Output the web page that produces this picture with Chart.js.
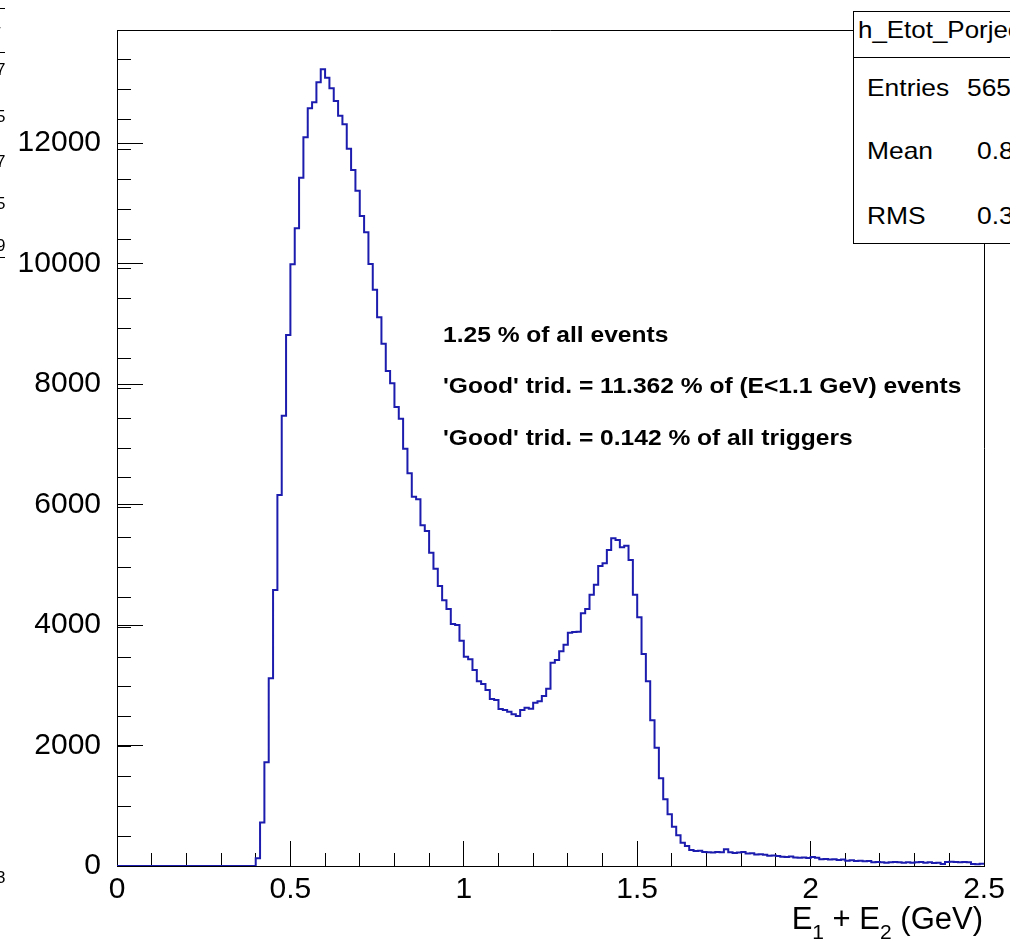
<!DOCTYPE html>
<html>
<head>
<meta charset="utf-8">
<script src="https://cdn.jsdelivr.net/npm/chart.js@4.4.0/dist/chart.umd.min.js"></script>
<style>
html,body{margin:0;padding:0;background:#fff;overflow:hidden;}
#wrap{position:relative;width:1019px;height:943px;overflow:hidden;font-family:"Liberation Sans",Arial,Helvetica,sans-serif;color:#000;background:#fff;}
#c{position:absolute;left:0;top:0;}
.ann{position:absolute;left:443px;font-weight:bold;font-size:22px;line-height:22px;white-space:nowrap;transform:scaleX(1.117);transform-origin:0 0;}
#statsClip{position:absolute;left:853px;top:0;width:157px;height:260px;overflow:hidden;}
#stats{position:absolute;left:0;top:11px;width:220px;height:233px;box-sizing:border-box;border:1px solid #000;background:#fff;}
#stats .div{position:absolute;left:0;right:0;top:45px;height:1px;background:#000;}
#stats .t{position:absolute;font-size:24px;line-height:24px;white-space:nowrap;}
#stats .s{transform:scaleX(1.1);transform-origin:0 0;}
#stats .ttl{transform:scaleX(1.08);transform-origin:0 0;}
#xtitle{position:absolute;right:36px;top:903px;font-size:31px;line-height:31px;white-space:nowrap;}
#xtitle span{font-size:21px;position:relative;top:10px;}
.frag{position:absolute;font-size:17px;line-height:17px;white-space:nowrap;}
.dash{position:absolute;left:0;width:5px;height:1px;background:#000;}
</style>
</head>
<body>
<div id="wrap">
<canvas id="c" width="1019" height="943"></canvas>

<div class="dash" style="top:8px"></div>
<div class="frag" style="left:-5px;top:22px">r</div>
<div class="dash" style="top:52px"></div>
<div class="frag" style="left:-4px;top:61px">7</div>
<div class="frag" style="left:-4px;top:108px">5</div>
<div class="frag" style="left:-4px;top:153px">7</div>
<div class="frag" style="left:-4px;top:195px">5</div>
<div class="frag" style="left:-4px;top:237px">9</div>
<div class="dash" style="top:257px"></div>
<div class="frag" style="left:-4px;top:869px">3</div>

<div class="ann" style="top:324px">1.25 % of all events</div>
<div class="ann" style="top:375px">'Good' trid. = 11.362 % of (E&lt;1.1 GeV) events</div>
<div class="ann" style="top:427px">'Good' trid. = 0.142 % of all triggers</div>

<div id="statsClip">
  <div id="stats">
    <div class="t ttl" style="left:4px;top:6px">h_Etot_Porjection</div>
    <div class="div"></div>
    <div class="t s" style="left:13px;top:64px">Entries</div>
    <div class="t s" style="left:113px;top:64px">565</div>
    <div class="t s" style="left:13px;top:127px">Mean</div>
    <div class="t s" style="left:123px;top:127px">0.8</div>
    <div class="t s" style="left:13px;top:192px">RMS</div>
    <div class="t s" style="left:123px;top:192px">0.3</div>
  </div>
</div>

<div id="xtitle">E<span>1</span> + E<span>2</span> (GeV)</div>
</div>

<script>
// ---- data ----
const binLow = 0;
const binWidth = 0.0125;
const counts = [
  0,0,0,0,0,0,0,0,0,0, 0,0,0,0,0,0,0,0,0,0, 0,0,0,0,0,0,0,0,0,0, 0,0,
  130,720,1720,3115,4581,6158,7474,8813,
  9986,10584,11425,12094,12576,12675,13007,13223,13084,12908,
  12697,12453,12310,11905,11552,11208,10788,10518,9992,9565,
  9107,8669,8216,8011,7618,7424,6926,6518,6130,6086,
  5654,5560,5200,4935,4647,4409,4266,4017,4000,3740,
  3474,3430,3253,3066,3021,2921,2772,2755,2606,2589,
  2561,2518,2490,2589,2627,2611,2710,2733,2822,2943,
  3375,3419,3563,3673,3873,3884,3890,4194,4266,4503,
  4669,4979,5024,5245,5439,5411,5290,5316,5079,4503,
  4127,3519,3066,2420,1964,1455,1107,858,653,509,
  387,332,
  266,249,255,232,227,222,232,227,
  277,227,216,222,232,207,211,191,196,186,
  170,175,165,153,148,158,143,138,143,133,
  148,138,111,116,106,111,100,106,89,94,
  84,89,78,84,61,66,61,56,61,66,
  61,56,61,56,61,66,56,61,50,56,
  33,66,72,66,61,66,61,33,28,39
];
const xTickValues = [0, 0.5, 1, 1.5, 2, 2.5];
const yTickValues = [0, 2000, 4000, 6000, 8000, 10000, 12000];
const xMinorStep = 0.1;
const yMinorStep = 500;
const xRange = [0, 2.5];
const yRange = [0, 13876];

// histogram outline points built from the bins
const pts = [];
counts.forEach((c, i) => {
  const lo = binLow + i * binWidth;
  pts.push({x: lo, y: c});
  pts.push({x: lo + binWidth, y: c});
});

const tickFont = {family: '"Liberation Sans", Arial, Helvetica, sans-serif', size: 30};

const framePlugin = {
  id: 'frame',
  afterDraw(chart) {
    const a = chart.chartArea, ctx = chart.ctx;
    ctx.save();
    ctx.strokeStyle = '#000';
    ctx.lineWidth = 1;
    ctx.beginPath();
    ctx.moveTo(a.left, a.top + 0.5);
    ctx.lineTo(a.right + 0.5, a.top + 0.5);
    ctx.lineTo(a.right + 0.5, a.bottom);
    ctx.stroke();
    ctx.restore();
  }
};

function noPad(s) { s.paddingLeft = 0; s.paddingRight = 0; s.paddingTop = 0; s.paddingBottom = 0; }

new Chart(document.getElementById('c'), {
  type: 'line',
  data: {
    datasets: [{
      data: pts,
      borderColor: '#1c1cae',
      borderWidth: 2,
      pointRadius: 0,
      tension: 0,
      fill: false
    }]
  },
  options: {
    responsive: false,
    devicePixelRatio: 1,
    animation: false,
    layout: {padding: {left: 0, right: 35, top: 30, bottom: 0}},
    plugins: {legend: {display: false}, tooltip: {enabled: false}},
    scales: {
      x: {
        type: 'linear', axis: 'x', position: 'bottom',
        min: xRange[0], max: xRange[1],
        afterBuildTicks: s => { s.ticks = xTickValues.map(v => ({value: v})); },
        afterFit: s => { s.height = 77; noPad(s); },
        grid: {drawOnChartArea: false, drawTicks: true, tickLength: -25, tickColor: '#000', tickWidth: 1},
        border: {display: true, color: '#000', width: 1},
        ticks: {autoSkip: false, maxRotation: 0, color: '#000', font: tickFont, padding: 31,
                callback: v => String(v)}
      },
      y: {
        type: 'linear', axis: 'y', position: 'left',
        min: yRange[0], max: yRange[1],
        afterBuildTicks: s => { s.ticks = yTickValues.map(v => ({value: v})); },
        afterFit: s => { s.width = 117; noPad(s); },
        grid: {drawOnChartArea: false, drawTicks: true, tickLength: -26, tickColor: '#000', tickWidth: 1},
        border: {display: true, color: '#000', width: 1},
        ticks: {autoSkip: false, color: '#000', font: tickFont, padding: 42,
                callback: v => String(v)}
      },
      x2: {
        type: 'linear', axis: 'x', position: {y: 0},
        min: xRange[0], max: xRange[1],
        afterFit: s => { noPad(s); },
        grid: {drawOnChartArea: false, drawTicks: true, tickLength: -13, tickColor: '#000', tickWidth: 1},
        border: {display: false},
        ticks: {display: false, stepSize: xMinorStep, includeBounds: false, autoSkip: false}
      },
      y2: {
        type: 'linear', axis: 'y', position: {x: 0},
        min: yRange[0], max: yRange[1],
        afterFit: s => { noPad(s); },
        grid: {drawOnChartArea: false, drawTicks: true, tickLength: -14, tickColor: '#000', tickWidth: 1},
        border: {display: false},
        ticks: {display: false, stepSize: yMinorStep, includeBounds: false, autoSkip: false}
      }
    }
  },
  plugins: [framePlugin]
});
</script>
</body>
</html>
